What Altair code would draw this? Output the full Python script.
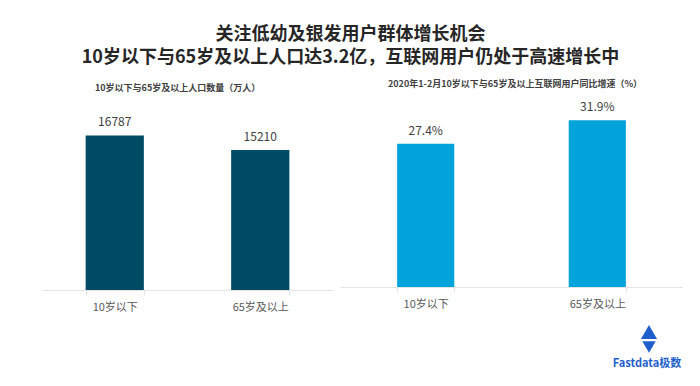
import altair as alt
import pandas as pd

FONT = "Noto Sans CJK SC"

categories = ["10岁以下", "65岁及以上"]
population = [16787, 15210]          # 万人
growth = [27.4, 31.9]                # %
growth_labels = ["27.4%", "31.9%"]

title_lines = ["关注低幼及银发用户群体增长机会", "10岁以下与65岁及以上人口达3.2亿，互联网用户仍处于高速增长中"]
left_title = "10岁以下与65岁及以上人口数量（万人）"
right_title = "2020年1-2月10岁以下与65岁及以上互联网用户同比增速（%）"
logo_text = ["Fastdata极数"]

df1 = pd.DataFrame({"cat": categories, "v": population, "lbl": [str(p) for p in population]})
df2 = pd.DataFrame({"cat": categories, "v": growth, "lbl": growth_labels})
df_logo = pd.DataFrame({"t": logo_text})


def xenc(pi, po):
    return alt.X(
        "cat:N", sort=categories,
        scale=alt.Scale(paddingInner=pi, paddingOuter=po),
        axis=alt.Axis(title=None, labelAngle=0, domainColor="#e4e4e4", tickColor="#e4e4e4",
                      tickBand="extent", tickSize=5, labelColor="#595959", labelFontSize=11,
                      labelPadding=6, labelFont=FONT),
    )


def sub_title(text, dx):
    return alt.TitleParams(text=text, anchor="start", dx=dx, fontSize=9, fontWeight="bold",
                           color="#404040", font=FONT, offset=12)


x1 = xenc(0.6, 0.3)
y1 = alt.Y("v:Q", scale=alt.Scale(domain=[0, 20100], nice=False), axis=None)
base1 = alt.Chart(df1)
left = alt.layer(
    base1.mark_bar(color="#004B64").encode(x=x1, y=y1),
    base1.mark_text(dy=-6, baseline="bottom", fontSize=12, color="#404040", font=FONT).encode(x=x1, y=y1, text="lbl:N"),
).properties(width=291, height=185, title=sub_title(left_title, 53))

x2 = xenc(0.667, 0.333)
y2 = alt.Y("v:Q", scale=alt.Scale(domain=[0, 34.8], nice=False), axis=None)
base2 = alt.Chart(df2)
logo = alt.Chart(df_logo)
right = alt.layer(
    base2.mark_bar(color="#00A3DA").encode(x=x2, y=y2),
    base2.mark_text(dy=-6, baseline="bottom", fontSize=12, color="#404040", font=FONT).encode(x=x2, y=y2, text="lbl:N"),
    logo.mark_point(shape="triangle-up", filled=True, size=260, color="#1E5FCB", opacity=1).encode(
        x=alt.value(309), y=alt.value(227)),
    logo.mark_point(shape="triangle-down", filled=True, size=180, color="#1E5FCB", opacity=1).encode(
        x=alt.value(309), y=alt.value(242)),
    logo.mark_rule(color="white", strokeWidth=1, strokeDash=[3, 1]).encode(
        x=alt.value(298), x2=alt.value(320), y=alt.value(235)),
    logo.mark_text(fontSize=11, color="#1E5FCB", font=FONT, fontWeight="bold").encode(
        x=alt.value(307), y=alt.value(259), text="t:N"),
).properties(width=343, height=182, title=sub_title(right_title, 48))

chart = alt.hconcat(left, right, spacing=7).properties(
    title=alt.TitleParams(text=title_lines, fontSize=18, fontWeight="bold", lineHeight=23,
                          color="#262626", anchor="middle", dx=-12, font=FONT, offset=13),
    padding={"left": 34, "top": 18, "right": 0, "bottom": 0},
).configure(font=FONT).configure_view(strokeWidth=0, stroke="transparent")

chart.save("out.html", embed_options={"renderer": "svg", "actions": False})
